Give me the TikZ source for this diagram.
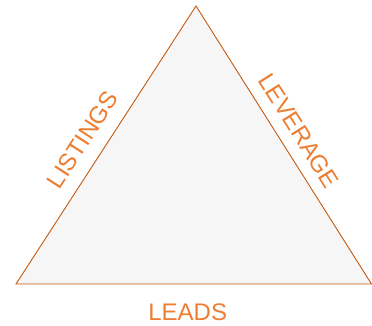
\documentclass[tikz,border=0pt]{standalone}
\usepackage{fontspec}
\setmainfont{Liberation Sans}
\usetikzlibrary{positioning}
\definecolor{edgeorange}{HTML}{C55A11}
\definecolor{textorange}{HTML}{ED7D31}
\definecolor{panelgray}{HTML}{F6F6F6}
\tikzstyle{triangle} = [draw=edgeorange, fill=panelgray, line width=0.9pt, line join=miter]
\tikzstyle{sidelabel} = [text=textorange, inner sep=0pt, font=\fontsize{24}{28}\selectfont, sloped]

\begin{document}
\begin{tikzpicture}[x=1pt, y=-1pt]
\useasboundingbox (0,0) rectangle (372,325);

\coordinate (top) at (196,6);
\coordinate (left) at (16,284);
\coordinate (right) at (371.5,284);

\filldraw [triangle] (top)
  -- node (listings) [sidelabel, pos=0.525, above=13.5pt] {LISTINGS} (left)
  -- node (leads) [sidelabel, pos=0.483, below=19.5pt] {LEADS} (right)
  -- node (leverage) [sidelabel, pos=0.512, above=11.5pt] {LEVERAGE} cycle;
\end{tikzpicture}
\end{document}
